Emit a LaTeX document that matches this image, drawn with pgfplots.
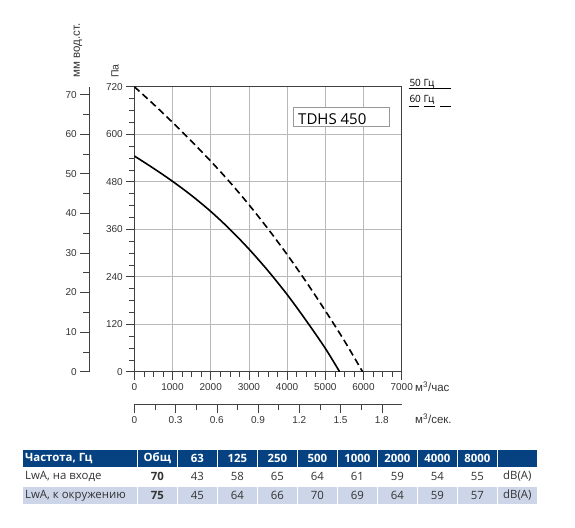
\documentclass[border=0pt]{standalone}
\usepackage{pgfplots}
\pgfplotsset{compat=1.18}
\usepackage{fontspec}
\setmainfont{Liberation Sans}
\newfontfamily\tabfont{Open Sans}
\definecolor{hdr}{RGB}{6,66,130}
\definecolor{rowb}{RGB}{205,213,232}
\definecolor{txt}{RGB}{51,51,51}
\begin{document}
\begin{tikzpicture}[x=1pt,y=1pt]
\path[use as bounding box] (0,0) rectangle (575,527);
\pgfplotsset{
  every tick label/.append style={font=\fontsize{10}{12}\selectfont, text=txt},
  /pgf/number format/assume math mode=true,
  /pgf/number format/1000 sep={},
}
% main axis
\begin{axis}[at={(134.3pt,155.3pt)}, anchor=south west, scale only axis,
  width=267.4pt, height=285pt,
  xmin=0, xmax=7000, ymin=0, ymax=720,
  xtick={0,1000,...,7000}, ytick={0,120,...,720},
  minor x tick num=3, minor y tick num=3,
  tick align=outside, xtick pos=bottom, ytick pos=left,
  major tick length=8pt, minor tick length=5pt,
  grid=major, grid style={gray!55, line width=0.6pt},
  axis line style={black!75, line width=0.7pt},
  tick style={black!75, line width=0.6pt},
  clip=true]
\addplot[black, line width=1.6pt, smooth] coordinates {
 (0,545) (500,514) (1000,481) (1500,445) (2000,405) (2500,360) (3000,310)
 (3500,255) (4000,195) (4500,129) (5000,59) (5374,0)};
\addplot[black, line width=1.6pt, smooth, dash pattern=on 7pt off 4pt] coordinates {
 (0,720) (500,676) (1000,630) (1500,582) (2000,532) (2500,479) (3000,422)
 (3500,361) (4000,296) (4500,227) (5000,154) (5500,78) (5975,0)};
\end{axis}
% mm water axis
\begin{axis}[at={(89.3pt,155.3pt)}, anchor=south west, scale only axis,
  width=10pt, height=285pt, xmin=0, xmax=1, ymin=0, ymax=72,
  axis y line=left, hide x axis, axis line style={black!75, line width=0.7pt, -},
  ytick={0,10,...,70}, minor y tick num=1, tick align=outside,
  major tick length=9pt, minor tick length=6pt,
  tick style={black!75, line width=0.6pt}]
\end{axis}
% m3/s axis
\begin{axis}[at={(134.3pt,122.7pt)}, anchor=south west, scale only axis,
  width=267.4pt, height=10pt, xmin=0, xmax=1.944444, ymin=0, ymax=1,
  axis x line=bottom, hide y axis, axis line style={black!75, line width=0.7pt, -},
  xtick={0,0.3,0.6,0.9,1.2,1.5,1.8}, xticklabels={0,0.3,0.6,0.9,1.2,1.5,1.8},
  minor x tick num=1, tick align=outside,
  major tick length=9pt, minor tick length=6pt,
  tick style={black!75, line width=0.6pt}]
\end{axis}
% axis labels
\node[rotate=90, font=\fontsize{11.5}{13}\selectfont, text=txt] at (78,476.5) {мм вод.ст.};
\node[rotate=90, font=\fontsize{10.5}{12}\selectfont, text=txt] at (115,456) {Па};
\node[anchor=west, inner sep=0pt, font=\fontsize{11.5}{13}\selectfont, text=txt] at (415,140) {м\textsuperscript{3}/час};
\node[anchor=west, inner sep=0pt, font=\fontsize{11.5}{13}\selectfont, text=txt] at (415,108) {м\textsuperscript{3}/сек.};
% model box
\draw[gray!80, line width=0.6pt, fill=white] (293.3,400.3) rectangle (389,419.3);
\node[anchor=base west, inner sep=0pt, font=\tabfont\fontsize{15}{18}\selectfont] at (298,402.7) {TDHS 450};
% legend
\node[anchor=base west, inner sep=0pt, font=\tabfont\fontsize{10}{12}\selectfont] at (409.3,440.3) {50 Гц};
\draw[black, line width=1pt] (408.7,438) -- (450.7,438);
\node[anchor=base west, inner sep=0pt, font=\tabfont\fontsize{10}{12}\selectfont] at (409.3,424.3) {60 Гц};
\draw[black, line width=1.2pt, dash pattern=on 10.6pt off 5pt] (408.7,420.3) -- (450.7,420.3);
% table
\fill[hdr] (23.3,60.3) rectangle (136.7,77);
\fill[rowb] (23.3,23) rectangle (136.7,39.7);
\foreach \k in {0,...,9} {
  \fill[hdr] ({138.3+40*\k},60.3) rectangle ({176.6+40*\k},77);
  \fill[rowb] ({138.3+40*\k},23) rectangle ({176.6+40*\k},39.7);
}
\node[anchor=west, inner sep=0pt, text=white, font=\tabfont\bfseries\fontsize{11.4}{13}\selectfont] at (25,68.7) {Частота, Гц};
\foreach \v [count=\i from 0] in {Общ,63,125,250,500,1000,2000,4000,8000}
  \node[text=white, font=\tabfont\bfseries\fontsize{11.4}{13}\selectfont] at ({157.3+40*\i},68.7) {\v};
\node[anchor=west, inner sep=0pt, text=txt, font=\tabfont\fontsize{11.4}{13}\selectfont] at (25,51) {LwA, на входе};
\foreach \v [count=\i from 0] in {\textbf{70},43,58,65,64,61,59,54,55,dB(A)}
  \node[text=txt, font=\tabfont\fontsize{11.4}{13}\selectfont] at ({157.3+40*\i},51) {\v};
\node[anchor=west, inner sep=0pt, text=txt, font=\tabfont\fontsize{11.4}{13}\selectfont] at (25,31.5) {LwA, к окружению};
\foreach \v [count=\i from 0] in {\textbf{75},45,64,66,70,69,64,59,57,dB(A)}
  \node[text=txt, font=\tabfont\fontsize{11.4}{13}\selectfont] at ({157.3+40*\i},31.5) {\v};
\end{tikzpicture}
\end{document}
